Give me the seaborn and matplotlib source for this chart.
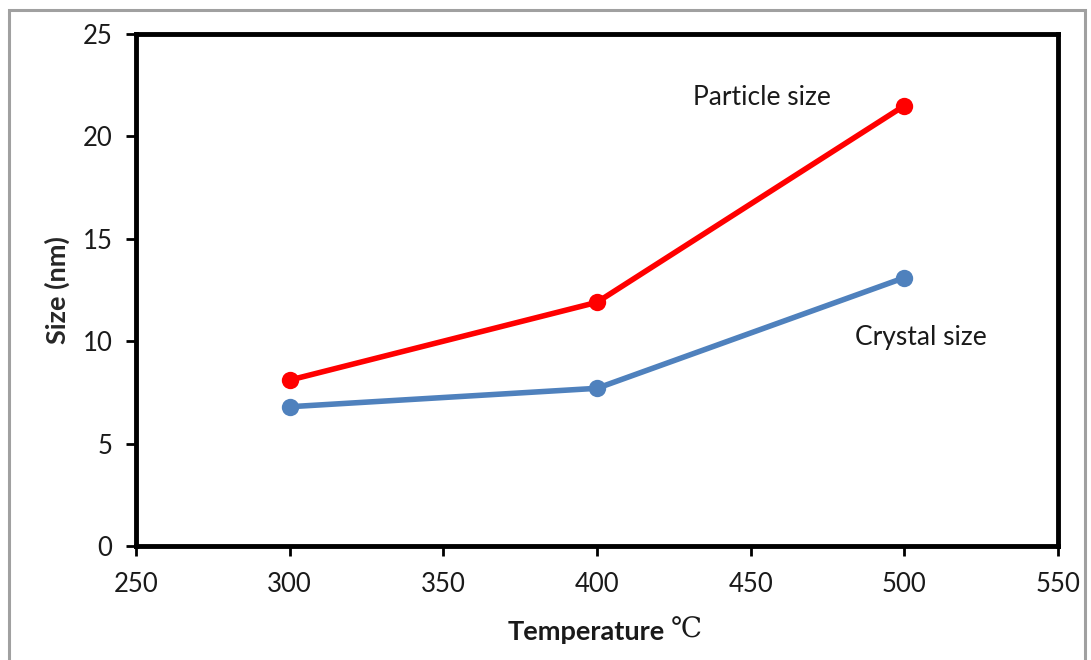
import matplotlib
matplotlib.use("Agg")
import matplotlib.pyplot as plt
from matplotlib.patches import Rectangle
import seaborn as sns
import pandas as pd

# Calcination temperature (°C) and measured sizes (nm)
temperatures = [300, 400, 500]
particle_size = [8.1, 11.9, 21.5]
crystal_size = [6.8, 7.7, 13.1]
series_names = ["Particle size", "Crystal size"]
series_colors = ["#FF0000", "#4F81BD"]
x_ticks = [250, 300, 350, 400, 450, 500, 550]
y_ticks = [0, 5, 10, 15, 20, 25]

df = pd.DataFrame({
    "Temperature": temperatures * 2,
    "Size": particle_size + crystal_size,
    "Series": [series_names[0]] * 3 + [series_names[1]] * 3,
})

sns.set_style("white")
plt.rcParams["font.family"] = ["Lato", "DejaVu Sans"]
plt.rcParams["text.color"] = "#1a1a1a"

fig = plt.figure(figsize=(10.91, 6.60), dpi=100)
ax = fig.add_axes([136 / 1091, 1 - 546 / 660, (1058 - 136) / 1091, (546 - 34) / 660])

sns.lineplot(
    data=df, x="Temperature", y="Size", hue="Series",
    palette=dict(zip(series_names, series_colors)),
    marker="o", markersize=12.5, markeredgewidth=0, linewidth=4.0,
    legend=False, ax=ax,
)

ax.set_xlim(250, 550)
ax.set_ylim(0, 25)
ax.set_xticks(x_ticks)
ax.set_yticks(y_ticks)
ax.tick_params(axis="both", direction="out", length=7, width=2, color="black",
               labelcolor="#1a1a1a", labelsize=18.5, left=True, bottom=True)
ax.tick_params(axis="x", pad=12)
ax.tick_params(axis="y", pad=10)
for spine in ax.spines.values():
    spine.set_visible(True)
    spine.set_color("black")
    spine.set_linewidth(3.5)

ax.set_xlabel("")
ax.set_ylabel("Size (nm)", fontsize=19.5, fontweight="bold", labelpad=9)

# Axis title: bold word followed by the degree-Celsius sign in a serif face
fig.text(665 / 1091, 1 - 632 / 660, "Temperature", fontsize=19.5, fontweight="bold",
         ha="right", va="center")
fig.text(671 / 1091, 1 - 630 / 660, "℃", fontsize=20, family=["DejaVu Serif"],
         ha="left", va="center")

ax.text(453.6, 21.9, "Particle size", fontsize=19, ha="center", va="center")
ax.text(505.3, 10.16, "Crystal size", fontsize=19, ha="center", va="center")

# Light gray outer frame around the chart
fig.patches.append(Rectangle((9 / 1091, -0.05), (1085 - 9) / 1091, 1.05 - 10 / 660,
                             transform=fig.transFigure, fill=False,
                             edgecolor="#A0A0A0", linewidth=2.2))

fig.savefig("out.png", dpi=100)
